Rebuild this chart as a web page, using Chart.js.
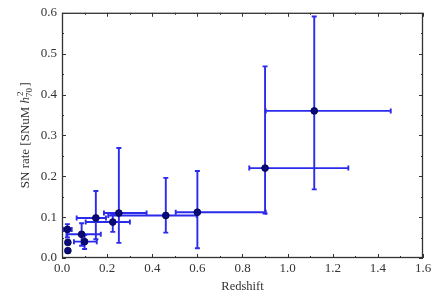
<!DOCTYPE html>
<html>
<head>
<meta charset="utf-8">
<script src="https://cdn.jsdelivr.net/npm/chart.js@4"></script>
<style>
  html, body { margin: 0; padding: 0; background: #fff; }
  #wrap { width: 447px; height: 298px; }
</style>
</head>
<body>
<div id="wrap"><canvas id="chart"></canvas></div>
<script>
var redshift = [0.024, 0.026, 0.026, 0.087, 0.100, 0.150, 0.225, 0.252, 0.460, 0.600, 0.900, 1.118];
var rate     = [0.070, 0.038, 0.018, 0.058, 0.040, 0.098, 0.088, 0.110, 0.104, 0.112, 0.220, 0.360];
// error bars (null = none)
var zLow  = [0.006, null, null, 0.020, 0.053, 0.065, 0.105, 0.186, 0.205, 0.504, 0.830, 0.903];
var zHigh = [0.043, null, null, 0.172, 0.154, 0.195, 0.301, 0.375, 0.597, 0.903, 1.269, 1.457];
var rLow  = [0.050, null, null, 0.030, 0.022, 0.046, 0.064, 0.037, 0.062, 0.024, 0.109, 0.168];
var rHigh = [0.083, null, null, 0.085, 0.056, 0.164, 0.107, 0.269, 0.196, 0.213, 0.469, 0.591];

var xTicks = [0, 0.2, 0.4, 0.6, 0.8, 1.0, 1.2, 1.4, 1.6];
var yTicks = [0, 0.1, 0.2, 0.3, 0.4, 0.5, 0.6];

var font = "'Liberation Serif', 'DejaVu Serif', serif";

let pts = redshift.map(function (z, i) { return { x: z, y: rate[i] }; });

// error bars + frame + inward ticks
let extras = {
  id: 'extras',
  beforeDatasetsDraw: function (chart) {
    let c = chart.ctx, xs = chart.scales.x, ys = chart.scales.y;
    c.save();
    c.strokeStyle = '#2b2bec';
    c.lineWidth = 1.9;
    for (let i = 0; i < redshift.length; i++) {
      let px = xs.getPixelForValue(redshift[i]), py = ys.getPixelForValue(rate[i]);
      c.beginPath();
      if (zLow[i] != null) {
        let a = xs.getPixelForValue(zLow[i]), b = xs.getPixelForValue(zHigh[i]);
        c.moveTo(a, py); c.lineTo(b, py);
        c.moveTo(a, py - 2.5); c.lineTo(a, py + 2.5);
        c.moveTo(b, py - 2.5); c.lineTo(b, py + 2.5);
      }
      if (rLow[i] != null) {
        let a = ys.getPixelForValue(rLow[i]), b = ys.getPixelForValue(rHigh[i]);
        c.moveTo(px, a); c.lineTo(px, b);
        c.moveTo(px - 2.5, a); c.lineTo(px + 2.5, a);
        c.moveTo(px - 2.5, b); c.lineTo(px + 2.5, b);
      }
      c.stroke();
    }
    c.restore();
  },
  afterDraw: function (chart) {
    let c = chart.ctx, a = chart.chartArea, xs = chart.scales.x, ys = chart.scales.y;
    c.save();
    c.strokeStyle = '#333';
    c.lineWidth = 1;
    c.beginPath();
    for (let v = 0; v <= 1.6001; v += 0.1) {
      let p = Math.round(xs.getPixelForValue(v)) + 0.5;
      let len = (Math.round(v * 10) % 2 == 0) ? 4 : 2;
      c.moveTo(p, a.bottom); c.lineTo(p, a.bottom - len);
      c.moveTo(p, a.top); c.lineTo(p, a.top + len);
    }
    for (let v = 0; v <= 0.6001; v += 0.05) {
      let p = Math.round(ys.getPixelForValue(v)) + 0.5;
      let len = (Math.round(v * 20) % 2 == 0) ? 4 : 2;
      c.moveTo(a.left, p); c.lineTo(a.left + len, p);
      c.moveTo(a.right, p); c.lineTo(a.right - len, p);
    }
    c.stroke();
    c.lineWidth = 1.3;
    c.strokeRect(a.left + 0.5, a.top + 0.5, a.right - a.left - 1, a.bottom - a.top - 1);

    // y axis title with italic h and stacked sup/sub
    c.fillStyle = '#333';
    c.translate(26, (a.top + a.bottom) / 2);
    c.rotate(-Math.PI / 2);
    c.textBaseline = 'middle';
    c.font = "13px " + font;
    let s1 = 'SN rate [SNuM ';
    let w1 = c.measureText(s1).width;
    c.font = "italic 13px " + font;
    let wh = c.measureText('h').width;
    c.font = "9px " + font;
    let w70 = c.measureText('70').width;
    c.font = "13px " + font;
    let total = w1 + wh + w70 + 1 + c.measureText(']').width;
    let x0 = -total / 2;
    c.textAlign = 'left';
    c.fillText(s1, x0, 0);
    c.font = "italic 13px " + font;
    c.fillText('h', x0 + w1, 0);
    c.font = "9px " + font;
    c.fillText('2', x0 + w1 + wh + 1, -5);
    c.fillText('70', x0 + w1 + wh, 4);
    c.font = "13px " + font;
    c.fillText(']', x0 + w1 + wh + w70 + 1.5, 0);
    c.restore();
  }
};

let ctx = document.getElementById("chart").getContext("2d");
let chart = new Chart(ctx, {
  type: 'scatter',
  data: {
    datasets: [{
      label: 'SN rate',
      data: pts,
      backgroundColor: '#0a0a78',
      borderColor: '#000050',
      borderWidth: 0.8,
      pointRadius: 3.4,
      pointHoverRadius: 3.4
    }]
  },
  options: {
    responsive: true,
    maintainAspectRatio: false,
    animation: false,
    events: [],
    layout: { padding: { top: 12, right: 24, left: 0, bottom: 0 } },
    plugins: { legend: { display: false }, tooltip: { enabled: false } },
    scales: {
      x: {
        type: 'linear', min: 0, max: 1.6,
        afterBuildTicks: function (s) { s.ticks = xTicks.map(function (v) { return { value: v }; }); },
        afterFit: function (s) { s.height = 40; },
        grid: { display: false, drawTicks: false },
        border: { display: false },
        ticks: {
          color: '#333', padding: 3,
          font: { family: font, size: 13 },
          maxRotation: 0,
          callback: function (v) { return v.toFixed(1); }
        },
        title: { display: true, text: 'Redshift', color: '#333', padding: { top: 0 }, font: { family: font, size: 12.5 } }
      },
      y: {
        type: 'linear', min: 0, max: 0.6,
        afterBuildTicks: function (s) { s.ticks = yTicks.map(function (v) { return { value: v }; }); },
        afterFit: function (s) { s.width = 62; },
        grid: { display: false, drawTicks: false },
        border: { display: false },
        ticks: {
          color: '#333', padding: 5,
          font: { family: font, size: 13 },
          callback: function (v) { return v.toFixed(1); }
        }
      }
    }
  },
  plugins: [extras]
});
</script>
</body>
</html>
